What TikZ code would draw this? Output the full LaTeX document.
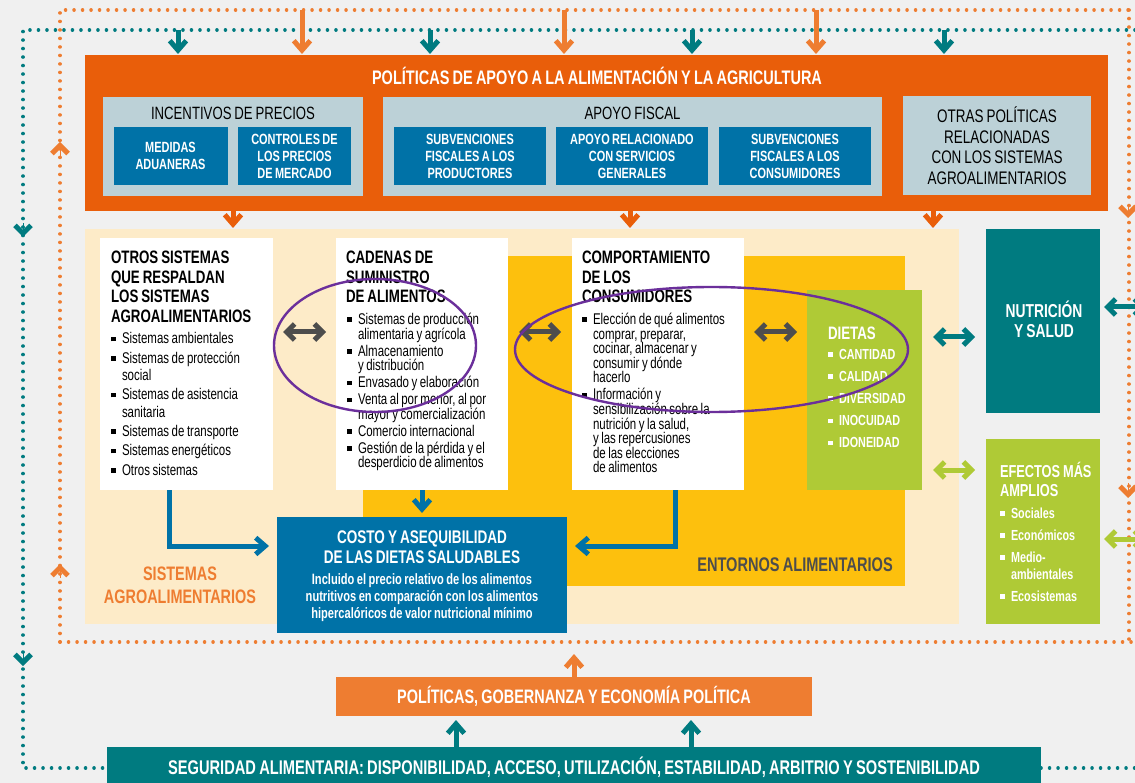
\documentclass[tikz,border=0pt]{standalone}
\usepackage{fontspec}
\setmainfont[FakeStretch=0.74,WordSpace=0.8]{Liberation Sans}
\usetikzlibrary{arrows.meta,calc}
\definecolor{bgc}{HTML}{F0F0F0}
\definecolor{mainor}{HTML}{E95E0A}
\definecolor{lor}{HTML}{EE7D31}
\definecolor{teal1}{HTML}{007B80}
\definecolor{blue1}{HTML}{0072A7}
\definecolor{lblue}{HTML}{BCD1D7}
\definecolor{cream}{HTML}{FDEBC8}
\definecolor{amber}{HTML}{FDC00D}
\definecolor{green1}{HTML}{AFCA36}
\definecolor{dgray}{HTML}{4D4D4D}
\definecolor{purp}{HTML}{6B2F9B}
\newcommand{\fs}[2]{\fontsize{#1}{#2}\selectfont}
\newcommand{\blt}[1]{\par\lineskiplimit=-20pt\hangindent=11pt\hangafter=1\noindent\makebox[11pt][l]{\color{#1}\rule[2.5pt]{4.6pt}{4.6pt}}}
\tikzset{
  x=1pt,y=-1pt,
  boxbase/.style={inner sep=0pt,outer sep=0pt,align=center},
  mainbox/.style={boxbase,fill=mainor},
  panel/.style={boxbase,fill=lblue,text=black},
  bluebox/.style={boxbase,fill=blue1,text=white,font=\bfseries\fs{14.8}{17}},
  whitebox/.style={boxbase,fill=white},
  label/.style={inner sep=0pt,outer sep=0pt,anchor=north west,align=flush left},
  dots/.style={line width=3.5pt,line cap=round,dash pattern=on 0.05pt off 8.45pt},
  arr/.style={line width=#1,-{Straight Barb[length=9.5pt,width=16.5pt,line width=5pt]}},
  arr/.default=5pt,
  chev/.style={line width=0.1pt,-{Straight Barb[length=8pt,width=16pt,line width=5pt]}},
  dbl/.style={line width=5pt,{Straight Barb[length=8pt,width=16pt,line width=5pt]}-{Straight Barb[length=8pt,width=16pt,line width=5pt]}},
  halo/.style={line width=2.4pt,draw=purp}
}
\begin{document}
\begin{tikzpicture}
\useasboundingbox[fill=bgc] (0,0) rectangle (1135,783);
% feedback loops
\coordinate (ot1) at (1129,642); \coordinate (ot2) at (1129,10);
\coordinate (ot3) at (60,10); \coordinate (ot4) at (60,642);
\coordinate (tt1) at (1135,30); \coordinate (tt2) at (23,30); \coordinate (tt3) at (23,768);
\coordinate (tr) at (1135,768);
\draw[dots,lor] (ot4) -- (ot3) -- (1135,10);
\draw[dots,lor] (ot2) -- (ot1);
\draw[dots,lor] (ot4) -- (1135,642);

% backgrounds
\node[boxbase,fill=cream,minimum width=874pt,minimum height=395pt] (sisbg) at (522,426.5) {};
\node[boxbase,fill=amber,minimum width=542pt,minimum height=330pt] (entbg) at (634,421) {};

% top block
\node[mainbox,minimum width=1023pt,minimum height=156pt] (main) at (596.5,133) {};
\node[boxbase,text=white,font=\bfseries\fs{19.6}{20}] (maint) at (597,76) {POLÍTICAS DE APOYO A LA ALIMENTACIÓN Y LA AGRICULTURA};
\node[panel,minimum width=260pt,minimum height=99pt] (p1) at (233,146.5) {};
\node[panel,minimum width=499pt,minimum height=99pt] (p2) at (632.5,146.5) {};
\node[panel,minimum width=188pt,minimum height=99pt,font=\fs{18.2}{20.5}] (p3) at (997,145.5) {OTRAS POLÍTICAS\\RELACIONADAS\\CON LOS SISTEMAS\\AGROALIMENTARIOS};
\node[boxbase,font=\fs{17.8}{20}] (p1t) at (233,113) {INCENTIVOS DE PRECIOS};
\node[boxbase,font=\fs{17.8}{20}] (p2t) at (632.5,113) {APOYO FISCAL};
\node[bluebox,minimum width=114pt,minimum height=58pt] (b1) at (170.5,156) {MEDIDAS\\ADUANERAS};
\node[bluebox,minimum width=113pt,minimum height=58pt] (b2) at (294.5,156) {CONTROLES DE\\LOS PRECIOS\\DE MERCADO};
\node[bluebox,minimum width=152pt,minimum height=58pt] (b3) at (470,156) {SUBVENCIONES\\FISCALES A LOS\\PRODUCTORES};
\node[bluebox,minimum width=152pt,minimum height=58pt] (b4) at (632,156) {APOYO RELACIONADO\\CON SERVICIOS\\GENERALES};
\node[bluebox,minimum width=152pt,minimum height=58pt] (b5) at (795,156) {SUBVENCIONES\\FISCALES A LOS\\CONSUMIDORES};

% white boxes
\node[whitebox,minimum width=173pt,minimum height=252pt] (otros) at (186.5,364) {};
\node[whitebox,minimum width=172pt,minimum height=252pt] (cad) at (422,364) {};
\node[whitebox,minimum width=172pt,minimum height=252pt] (comp) at (658,364) {};
\node[label,text width=160pt,font=\bfseries\fs{18}{19.5}] (otrost) at (111,251) {OTROS SISTEMAS\\QUE RESPALDAN\\LOS SISTEMAS\\AGROALIMENTARIOS};
\node[label,text width=160pt,font=\fs{15.5}{17.2}] (otrosl) at (111,324.5) {\setlength{\parskip}{2.2pt}
\blt{black}Sistemas ambientales
\blt{black}Sistemas de protección\newline social
\blt{black}Sistemas de asistencia\newline sanitaria
\blt{black}Sistemas de transporte
\blt{black}Sistemas energéticos
\blt{black}Otros sistemas\par};
\node[label,text width=160pt,font=\bfseries\fs{18}{19.5}] (cadt) at (346,251) {CADENAS DE\\SUMINISTRO\\DE ALIMENTOS};
\node[label,text width=160pt,font=\fs{15.5}{14.6}] (cadl) at (347,307.5) {\setlength{\parskip}{2.4pt}
\blt{black}Sistemas de producción\newline alimentaria y agrícola
\blt{black}Almacenamiento\newline y distribución
\blt{black}Envasado y elaboración
\blt{black}Venta al por menor, al por\newline mayor y comercialización
\blt{black}Comercio internacional
\blt{black}Gestión de la pérdida y el\newline desperdicio de alimentos\par};
\node[label,text width=160pt,font=\bfseries\fs{18}{19.5}] (compt) at (582,251) {COMPORTAMIENTO\\DE LOS\\CONSUMIDORES};
\node[label,text width=160pt,font=\fs{15.5}{14.6}] (compl) at (582,307.5) {\setlength{\parskip}{2.4pt}
\blt{black}Elección de qué alimentos\newline comprar, preparar,\newline cocinar, almacenar y\newline consumir y dónde\newline hacerlo
\blt{black}Información y\newline sensibilización sobre la\newline nutrición y la salud,\newline y las repercusiones\newline de las elecciones\newline de alimentos\par};

% dietas
\node[boxbase,fill=green1,minimum width=115pt,minimum height=200pt] (diet) at (864.5,390) {};
\node[label,text=white,font=\bfseries\fs{18}{20}] (dietT) at (828,327) {DIETAS};
\node[label,text=white,text width=100pt,font=\bfseries\fs{14.6}{15}] (dietL) at (828,337) {\setlength{\parskip}{7.2pt}
\blt{white}CANTIDAD
\blt{white}CALIDAD
\blt{white}DIVERSIDAD
\blt{white}INOCUIDAD
\blt{white}IDONEIDAD\par};

% outcomes
\node[boxbase,fill=teal1,text=white,minimum width=114pt,minimum height=184pt] (nut) at (1043,321) {};
\node[boxbase,text=white,font=\bfseries\fs{18.7}{20}] (nutt) at (1044,319) {NUTRICIÓN\\Y SALUD};
\node[boxbase,fill=green1,minimum width=114pt,minimum height=185pt] (efe) at (1043,531.5) {};
\node[label,text=white,font=\bfseries\fs{17.3}{19.5}] (efeT) at (1000,462) {EFECTOS MÁS\\AMPLIOS};
\node[label,text=white,text width=95pt,font=\bfseries\fs{14.6}{17}] (efeL) at (1000,496) {\setlength{\parskip}{5pt}
\blt{white}Sociales
\blt{white}Económicos
\blt{white}Medio-\newline ambientales
\blt{white}Ecosistemas\par};

% costo
\node[boxbase,fill=blue1,text=white,minimum width=290pt,minimum height=116pt] (cost) at (422,575) {};
\node[boxbase,text=white,font=\bfseries\fs{18.3}{20}] (costt) at (422,547) {COSTO Y ASEQUIBILIDAD\\DE LAS DIETAS SALUDABLES};
\node[boxbase,text=white,font=\bfseries\fs{15}{17}] (costl) at (422,597.5) {Incluido el precio relativo de los alimentos\\nutritivos en comparación con los alimentos\\hipercalóricos de valor nutricional mínimo};

% labels
\node[boxbase,text=lor,font=\bfseries\fs{19.5}{23}] (sist) at (180,585.5) {SISTEMAS\\AGROALIMENTARIOS};
\node[boxbase,text=dgray,font=\bfseries\fs{19.7}{20}] (ent) at (795,565) {ENTORNOS ALIMENTARIOS};

% bottom
\node[boxbase,fill=lor,text=white,minimum width=476pt,minimum height=39pt,font=\bfseries\fs{19.5}{20}] (pol) at (574,696.5) {POLÍTICAS, GOBERNANZA Y ECONOMÍA POLÍTICA};
\node[boxbase,fill=teal1,minimum width=934pt,minimum height=36pt] (seg) at (574,765) {};
\node[boxbase,text=white,font=\bfseries\fs{19.8}{20}] (segt) at (574,767) {SEGURIDAD ALIMENTARIA: DISPONIBILIDAD, ACCESO, UTILIZACIÓN, ESTABILIDAD, ARBITRIO Y SOSTENIBILIDAD};

% teal loop
\draw[dots,teal1] (tt1) -- (tt2) -- (tt3) -- (seg.west |- tt3);
\draw[dots,teal1] (seg.east |- tt3) -- (tr);

% top arrows
\foreach \n/\xx in {a/178,b/430,c/692,d/944}{
  \coordinate (t\n) at (\xx,30);
  \draw[arr,teal1,shorten >=1pt] (t\n) -- (t\n |- main.north);
}
\foreach \n/\xx in {e/302,f/564,g/816}{
  \coordinate (t\n) at (\xx,10);
  \draw[arr,lor,shorten >=1pt] (t\n) -- (t\n |- main.north);
}
% main down arrows
\foreach \n/\xx in {h/233,i/630,j/933}{
  \coordinate (t\n) at (\xx,211);
  \draw[arr,mainor,shorten >=1pt] (t\n) -- (t\n |- sisbg.north);
}
% chevrons on the loops
\coordinate (c1a) at (60,156); \coordinate (c1b) at (60,142);
\draw[chev,lor] (c1a) -- (c1b);
\coordinate (c2a) at (60,578); \coordinate (c2b) at (60,564);
\draw[chev,lor] (c2a) -- (c2b);
\coordinate (c3a) at (23,223); \coordinate (c3b) at (23,237);
\draw[chev,teal1] (c3a) -- (c3b);
\coordinate (c4a) at (23,651); \coordinate (c4b) at (23,666);
\draw[chev,teal1] (c4a) -- (c4b);
\coordinate (c5a) at (1128,204); \coordinate (c5b) at (1128,218);
\draw[chev,lor] (c5a) -- (c5b);
\coordinate (c6a) at (1128,483); \coordinate (c6b) at (1128,498);
\draw[chev,lor] (c6a) -- (c6b);

% double arrows
\coordinate (yg) at (0,332);
\draw[dbl,dgray,shorten <=10pt,shorten >=10pt] (otros.east |- yg) -- (cad.west |- yg);
\draw[dbl,dgray,shorten <=11pt,shorten >=11pt] (cad.east |- yg) -- (comp.west |- yg);
\draw[dbl,dgray,shorten <=10pt,shorten >=10pt] (comp.east |- yg) -- (diet.west |- yg);
\coordinate (yt) at (0,337);
\draw[dbl,teal1,shorten <=11pt,shorten >=11pt] (diet.east |- yt) -- (nut.west |- yt);
\coordinate (yv) at (0,470);
\draw[dbl,green1,shorten <=11pt,shorten >=11pt] (diet.east |- yv) -- (efe.west |- yv);
\coordinate (r1) at (1146,307); \coordinate (r2) at (1146,539);
\draw[dbl,teal1,shorten <=4pt] (nut.east |- r1) -- (r1);
\draw[dbl,green1,shorten <=4pt] (efe.east |- r2) -- (r2);

% blue arrows
\coordinate (yb) at (0,546);
\coordinate (xo) at (169,0); \coordinate (xc) at (422,0); \coordinate (xk) at (675,0);
\draw[arr,blue1,shorten >=8pt] (otros.south -| xo) |- (cost.west |- yb);
\draw[arr,blue1,shorten >=4pt] (cad.south -| xc) -- (cost.north -| xc);
\draw[arr,blue1,shorten >=8pt] (comp.south -| xk) |- (cost.east |- yb);

% bottom arrows
\coordinate (xp) at (574,654);
\draw[arr,lor] (pol.north -| xp) -- (xp);
\coordinate (xs1) at (456,0); \coordinate (xs2) at (691,0); \coordinate (yp) at (0,720);
\draw[arr,teal1] (seg.north -| xs1) -- (xs1 |- yp);
\draw[arr,teal1] (seg.north -| xs2) -- (xs2 |- yp);

% hand-drawn ellipses
\draw[halo] (375,345.5) ellipse [x radius=101pt,y radius=66.5pt];
\draw[halo] (711.5,349.5) ellipse [x radius=196.5pt,y radius=62.5pt];
\end{tikzpicture}
\end{document}
